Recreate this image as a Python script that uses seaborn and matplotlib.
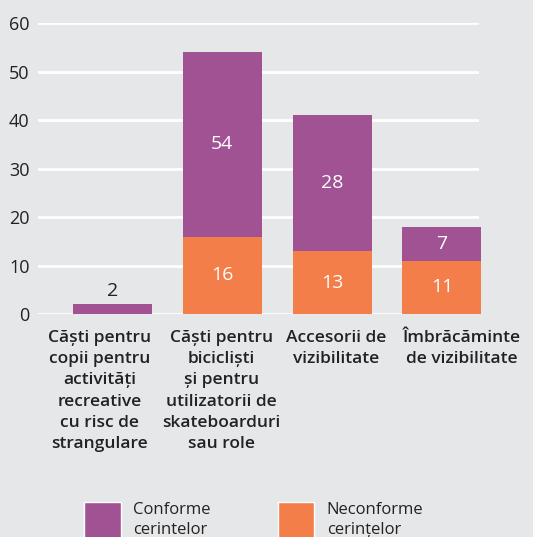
import matplotlib
matplotlib.use("Agg")
import matplotlib.pyplot as plt
import matplotlib.transforms as mtransforms
import seaborn as sns
import pandas as pd
from matplotlib.patches import Patch

# data
categorii = [
    "Căști pentru\ncopii pentru\nactivități\nrecreative\ncu risc de\nstrangulare",
    "Căști pentru\nbicicliști\nși pentru\nutilizatorii de\nskateboarduri\nsau role",
    "Accesorii de\nvizibilitate",
    "Îmbrăcăminte\nde vizibilitate",
]
neconforme = [0, 16, 13, 11]
conforme = [2, 38, 28, 7]
etichete_conforme = ["2", "54", "28", "7"]
etichete_neconforme = ["", "16", "13", "11"]
yticks = [0, 10, 20, 30, 40, 50, 60]

PURPLE = "#a15293"
ORANGE = "#f37e4a"
BG = "#e6e7e8"
TXT = "#222222"

sns.set_style("white")
plt.rcParams["font.family"] = ["Open Sans", "DejaVu Sans"]

df = pd.DataFrame({"cat": categorii, "nec": neconforme, "conf": conforme})
df["total"] = df["nec"] + df["conf"]

fig = plt.figure(figsize=(5.33, 5.37), dpi=100)
fig.patch.set_facecolor(BG)
ax = fig.add_axes([0.071, 0.415, 0.828, 0.542])
ax.set_facecolor(BG)

sns.barplot(data=df, x="cat", y="total", color=PURPLE, width=0.72,
            saturation=1, linewidth=0, ax=ax, zorder=3)
sns.barplot(data=df, x="cat", y="nec", color=ORANGE, width=0.72,
            saturation=1, linewidth=0, ax=ax, zorder=3)
for p in ax.patches:
    p.set_clip_on(False)

ax.set_ylim(0, 60)
ax.set_xlim(-0.68, 3.34)
ax.set_yticks(yticks)
ax.yaxis.grid(True, color="white", linewidth=2, zorder=0)
ax.set_axisbelow(True)
for s in ax.spines.values():
    s.set_visible(False)
ax.tick_params(axis="both", length=0, colors=TXT)
ax.tick_params(axis="y", pad=6, labelsize=13)
ax.set_xticklabels([])
ax.set_xlabel("")
ax.set_ylabel("")

# category labels, nudged sideways like in the original
shift_px = [-13, -1, 4, 20]
for i, cat in enumerate(categorii):
    tr = ax.get_xaxis_transform() + mtransforms.ScaledTranslation(
        shift_px[i] / 100, -16 / 100, fig.dpi_scale_trans)
    ax.text(i, 0, cat, transform=tr, ha="center", va="top", fontsize=12.5,
            fontweight="semibold", color=TXT, linespacing=1.43)

# value labels
for i in range(len(categorii)):
    n, c = neconforme[i], conforme[i]
    if n > 0:
        ax.text(i, n / 2, etichete_neconforme[i], ha="center", va="center",
                color="white", fontsize=14)
        ax.text(i, n + c / 2, etichete_conforme[i], ha="center", va="center",
                color="white", fontsize=14)
    else:
        ax.text(i, c + 1.0, etichete_conforme[i], ha="center",
                va="bottom", color=TXT, fontsize=14)

handles = [Patch(facecolor=PURPLE), Patch(facecolor=ORANGE)]
leg = fig.legend(handles, ["Conforme\ncerintelor", "Neconforme\ncerințelor"],
                 loc="upper left", bbox_to_anchor=(0.13, 0.094), ncol=2,
                 frameon=False, fontsize=12, handlelength=2.2, handleheight=3.25,
                 columnspacing=4.0, handletextpad=0.75, labelcolor=TXT)
for t in leg.get_texts():
    t.set_linespacing(1.35)

fig.savefig("out.png", dpi=100, facecolor=BG)
